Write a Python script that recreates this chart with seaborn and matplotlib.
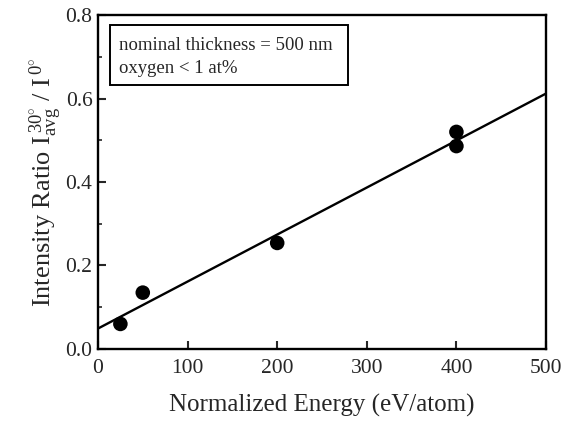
import matplotlib
matplotlib.use("Agg")
import matplotlib.pyplot as plt
import seaborn as sns
import pandas as pd
from matplotlib.patches import Rectangle
from matplotlib.ticker import MultipleLocator

# Values
energy = [25, 50, 200, 400, 400]
ratio = [0.060, 0.135, 0.254, 0.520, 0.486]

x_ticks = [0, 100, 200, 300, 400, 500]
y_ticks = [0.0, 0.2, 0.4, 0.6, 0.8]
y_tick_labels = ["0.0", "0.2", "0.4", "0.6", "0.8"]


def main():
    sns.set_style("ticks")
    plt.rcParams["font.family"] = ["Liberation Serif", "DejaVu Serif"]
    plt.rcParams["mathtext.fontset"] = "custom"
    plt.rcParams["mathtext.rm"] = "Liberation Serif"
    plt.rcParams["mathtext.it"] = "Liberation Serif"

    df = pd.DataFrame({"energy": energy, "ratio": ratio})

    fig = plt.figure(figsize=(5.67, 4.23), dpi=100)
    ax = fig.add_axes([0.1728, 0.175, 0.963 - 0.1728, 0.9645 - 0.175])
    ax.set_xlim(0, 500)
    ax.set_ylim(0, 0.8)

    sns.regplot(data=df, x="energy", y="ratio", ci=None, truncate=False, ax=ax,
                scatter_kws={"s": 110, "color": "black", "alpha": 1,
                             "edgecolors": "none", "zorder": 3},
                line_kws={"color": "black", "lw": 1.7})

    ax.set_xticks(x_ticks)
    ax.set_yticks(y_ticks)
    ax.set_yticklabels(y_tick_labels)
    ax.yaxis.set_minor_locator(MultipleLocator(0.1))
    ax.tick_params(axis="both", which="major", direction="in", length=6, width=1.5,
                   labelsize=15.5, pad=4)
    ax.tick_params(axis="x", which="major", pad=7)
    ax.tick_params(axis="y", which="minor", direction="in", length=3, width=1.2)
    for sp in ax.spines.values():
        sp.set_linewidth(1.7)
        sp.set_color("black")

    ax.set_xlabel("Normalized Energy (eV/atom)", fontsize=18, labelpad=12)
    ax.set_ylabel(r"Intensity Ratio I$_{\mathrm{avg}}^{\,30^{\circ}}$ / I$^{\,0^{\circ}}$",
                  fontsize=19, labelpad=1)

    ax.add_patch(Rectangle((0.027, 0.79), 0.531, 0.18, transform=ax.transAxes,
                           fill=False, edgecolor="black", lw=1.4))
    ax.text(0.047, 0.91, "nominal thickness = 500 nm", transform=ax.transAxes,
            fontsize=13.5, va="center", ha="left")
    ax.text(0.047, 0.84, "oxygen < 1 at%", transform=ax.transAxes,
            fontsize=13.5, va="center", ha="left")

    fig.savefig("out.png", dpi=100)


main()
